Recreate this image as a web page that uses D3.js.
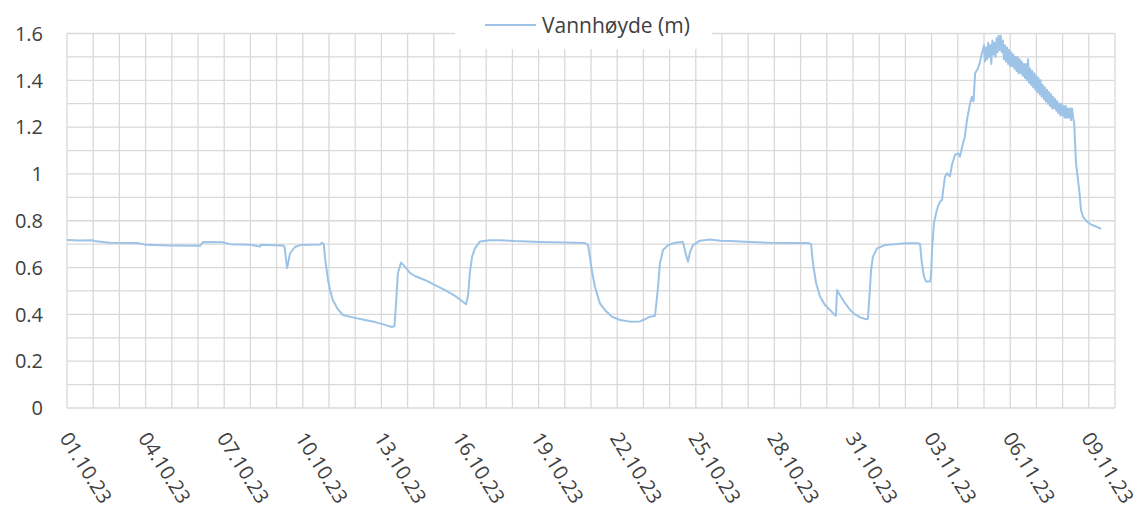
<!DOCTYPE html>
<html>
<head>
<meta charset="utf-8">
<script src="https://cdn.jsdelivr.net/npm/d3@7"></script>
<style>
  body { margin: 0; background: #fff; }
  text { font-family: "Open Sans", sans-serif; fill: #404040; }
</style>
</head>
<body>
<div id="chart"></div>
<script>
const W = 1141, H = 509;
const margin = {top: 33.5, right: 26, bottom: 101, left: 67};

const seriesName = "Vannhøyde (m)";

// x tick labels (every 3rd day)
const xLabels = ["01.10.23","04.10.23","07.10.23","10.10.23","13.10.23","16.10.23","19.10.23",
                 "22.10.23","25.10.23","28.10.23","31.10.23","03.11.23","06.11.23","09.11.23"];

// y ticks: gridlines every 0.1, labels every 0.2
const yGrid = [0,0.1,0.2,0.3,0.4,0.5,0.6,0.7,0.8,0.9,1,1.1,1.2,1.3,1.4,1.5,1.6];
const yLabels = [0,0.2,0.4,0.6,0.8,1,1.2,1.4,1.6];

// [days since 01.10.23 00:00, water level in m]
const readings = [
  [0.00,0.718],[0.50,0.716],[0.95,0.717],[1.10,0.712],[1.64,0.706],[2.67,0.705],[3.02,0.697],
  [3.93,0.694],[5.08,0.693],[5.19,0.709],[5.95,0.708],[6.22,0.700],[7.00,0.697],[7.37,0.690],
  [7.40,0.697],[8.21,0.694],[8.30,0.690],[8.40,0.598],[8.45,0.625],[8.51,0.660],[8.70,0.688],
  [8.89,0.696],[9.66,0.698],[9.73,0.706],[9.80,0.700],[9.85,0.640],[9.96,0.547],[10.04,0.504],
  [10.15,0.460],[10.31,0.427],[10.53,0.397],[10.99,0.385],[11.37,0.376],[11.76,0.367],
  [12.14,0.355],[12.40,0.346],[12.50,0.350],[12.56,0.449],[12.63,0.577],[12.75,0.621],
  [12.90,0.604],[13.09,0.577],[13.28,0.564],[13.66,0.547],[14.05,0.525],[14.43,0.504],
  [14.81,0.479],[15.11,0.454],[15.23,0.443],[15.31,0.483],[15.38,0.582],[15.46,0.646],
  [15.57,0.682],[15.76,0.711],[16.15,0.717],[16.53,0.717],[17.10,0.713],[18.05,0.709],
  [19.01,0.707],[19.77,0.705],[19.89,0.696],[20.04,0.582],[20.15,0.518],[20.34,0.447],
  [20.53,0.419],[20.80,0.390],[21.11,0.376],[21.49,0.369],[21.87,0.370],[22.06,0.379],
  [22.25,0.390],[22.44,0.393],[22.48,0.433],[22.56,0.518],[22.63,0.618],[22.75,0.675],
  [22.94,0.696],[23.21,0.706],[23.51,0.709],[23.63,0.654],[23.70,0.625],[23.78,0.666],
  [23.89,0.696],[24.16,0.715],[24.54,0.720],[24.92,0.715],[25.31,0.713],[26.07,0.709],
  [26.83,0.706],[27.60,0.705],[28.28,0.705],[28.40,0.700],[28.47,0.620],[28.59,0.534],
  [28.74,0.476],[28.93,0.440],[29.12,0.419],[29.31,0.397],[29.35,0.395],[29.39,0.504],
  [29.50,0.483],[29.69,0.449],[29.89,0.419],[30.08,0.400],[30.27,0.387],[30.50,0.379],
  [30.57,0.381],[30.65,0.518],[30.69,0.590],[30.76,0.646],[30.92,0.682],[31.22,0.696],
  [31.60,0.700],[31.98,0.704],[32.48,0.704],[32.56,0.700],[32.63,0.618],[32.71,0.561],
  [32.79,0.540],[32.94,0.540],[32.98,0.568],[33.02,0.682],[33.09,0.789],[33.17,0.832],
  [33.24,0.860],[33.32,0.881],[33.40,0.889],[33.44,0.931],[33.51,0.988],[33.59,1.003],
  [33.70,0.990],[33.78,1.040],[33.89,1.081],[34.01,1.088],[34.08,1.074],[34.20,1.131],
  [34.27,1.159],[34.35,1.230],[34.47,1.302],[34.54,1.330],[34.60,1.310],[34.66,1.430],
  [34.77,1.451],[34.85,1.480],[34.92,1.515],
  // noisy peak
  [35.00,1.55],[35.04,1.48],[35.08,1.54],[35.12,1.49],[35.16,1.56],[35.20,1.50],[35.24,1.55],
  [35.28,1.47],[35.32,1.57],[35.36,1.51],[35.40,1.56],[35.44,1.50],[35.48,1.58],[35.52,1.52],
  [35.56,1.59],[35.60,1.53],[35.64,1.59],[35.68,1.52],[35.72,1.57],[35.76,1.49],[35.80,1.55],
  [35.84,1.48],[35.88,1.54],[35.92,1.47],[35.96,1.53],[36.00,1.46],[36.04,1.52],[36.08,1.46],
  [36.12,1.51],[36.16,1.45],[36.20,1.50],[36.24,1.44],[36.28,1.50],[36.32,1.43],[36.36,1.49],
  [36.40,1.43],[36.44,1.48],[36.48,1.42],[36.52,1.47],[36.56,1.41],[36.60,1.47],[36.64,1.40],
  [36.68,1.49],[36.72,1.39],[36.76,1.45],[36.80,1.38],[36.84,1.44],[36.88,1.37],[36.92,1.43],
  [36.96,1.36],[37.00,1.42],[37.04,1.35],[37.08,1.41],[37.12,1.34],[37.16,1.40],[37.20,1.33],
  [37.24,1.38],[37.28,1.32],[37.32,1.37],[37.36,1.31],[37.40,1.36],[37.44,1.30],[37.48,1.35],
  [37.52,1.29],[37.56,1.34],[37.60,1.28],[37.64,1.33],[37.68,1.28],[37.72,1.32],[37.76,1.27],
  [37.80,1.31],[37.84,1.26],[37.88,1.30],[37.92,1.25],[37.96,1.30],[38.00,1.25],[38.04,1.29],
  [38.08,1.24],[38.12,1.29],[38.16,1.24],[38.20,1.28],[38.24,1.24],[38.28,1.28],[38.32,1.23],
  [38.36,1.28],[38.40,1.24],
  [38.44,1.218],[38.47,1.145],[38.51,1.047],[38.59,0.974],[38.66,0.903],[38.70,0.846],
  [38.78,0.817],[38.93,0.796],[39.12,0.782],[39.31,0.774],[39.47,0.765]
];

const start = Date.UTC(2023, 9, 1);
const end = Date.UTC(2023, 10, 10);
const parseLabel = d3.utcParse("%d.%m.%y");

const svg = d3.select("#chart").append("svg")
  .attr("width", W)
  .attr("height", H);

const x = d3.scaleUtc()
  .domain([new Date(start), new Date(end)])
  .range([margin.left, W - margin.right]);

const y = d3.scaleLinear()
  .domain([0, 1.6])
  .range([H - margin.bottom, margin.top]);

// gridlines
const grid = svg.append("g").attr("class", "grid")
  .attr("stroke", "#d9d9d9")
  .attr("stroke-width", 1.3);

grid.selectAll("line.v")
  .data(d3.utcDay.range(new Date(start), new Date(end + 1)))
  .enter()
  .append("line")
    .attr("class", "v")
    .attr("x1", d => x(d)).attr("x2", d => x(d))
    .attr("y1", y(1.6)).attr("y2", y(0));

grid.selectAll("line.h")
  .data(yGrid)
  .enter()
  .append("line")
    .attr("class", "h")
    .attr("x1", x.range()[0]).attr("x2", x.range()[1])
    .attr("y1", d => y(d)).attr("y2", d => y(d));

// y labels
svg.append("g").selectAll("text")
  .data(yLabels)
  .enter()
  .append("text")
    .attr("x", 43)
    .attr("y", d => y(d))
    .attr("dy", "0.36em")
    .attr("text-anchor", "end")
    .attr("font-size", "20px")
    .text(d => String(+d.toFixed(1)));

// x labels, rotated
svg.append("g").selectAll("text")
  .data(xLabels)
  .enter()
  .append("text")
    .attr("transform", d => "translate(" + (x(parseLabel(d)) - 8) + "," + 438 + ") rotate(58)")
    .attr("text-anchor", "start")
    .attr("font-size", "20px")
    .text(d => d);

// legend box over the top of the plot
const legend = svg.append("g").attr("class", "legend");
legend.append("rect")
  .attr("x", 455).attr("y", 0)
  .attr("width", 257).attr("height", 49)
  .attr("fill", "#fff");
legend.append("line")
  .attr("x1", 485).attr("x2", 536)
  .attr("y1", 25).attr("y2", 25)
  .attr("stroke", "#9dc3e6")
  .attr("stroke-width", 2);
legend.append("text")
  .attr("x", 542).attr("y", 25)
  .attr("dy", "0.36em")
  .attr("font-size", "21px")
  .text(seriesName);

// the series
const line = d3.line()
  .x(d => x(new Date(start + d[0] * 864e5)))
  .y(d => y(d[1]));

svg.append("path")
  .datum(readings)
  .attr("d", line)
  .attr("fill", "none")
  .attr("stroke", "#9dc3e6")
  .attr("stroke-width", 2)
  .attr("stroke-linejoin", "round");
</script>
</body>
</html>
